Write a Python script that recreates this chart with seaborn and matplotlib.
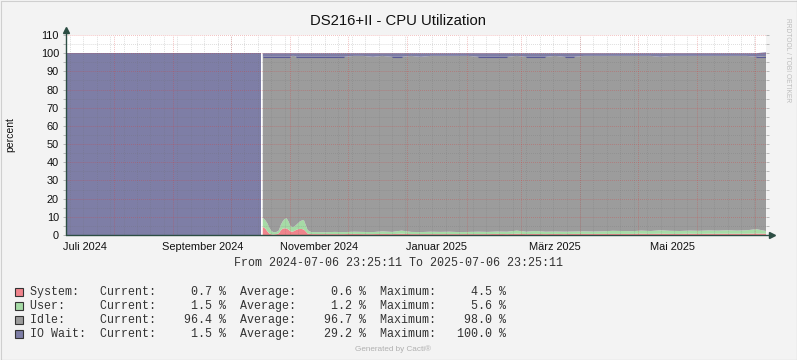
"""
plot.py — Cacti / RRDtool style CPU utilisation graph.
Run: python plot.py
"""
import numpy as np, pandas as pd
import matplotlib; matplotlib.use("Agg")
import matplotlib.pyplot as plt
import matplotlib.dates as mdates
from matplotlib.patches import Rectangle
from matplotlib.lines import Line2D
import seaborn as sns

W, H, DPI = 797, 360, 100
START = pd.Timestamp("2024-07-06 23:25:11")
END   = pd.Timestamp("2025-07-06 23:25:11")

# ---- data (days after START) ------------------------------------------------
days = [0, 101.9, 102.2,
        102.6, 104, 105, 106, 107, 108, 109, 110, 111, 112, 113, 114, 115, 116,
        117, 118, 119, 120, 121, 122, 123, 124, 125, 126, 127, 128,
        130, 135, 140, 145, 150, 155, 160, 165, 170, 175, 180, 185, 190, 195,
        200, 205, 210, 215, 220, 225, 230, 235, 240, 245, 250, 255, 260, 265,
        270, 275, 280, 285, 290, 295, 300, 305, 310, 315, 320, 325, 330, 335,
        340, 345, 350, 355, 360, 365]
system = [0, 0, np.nan,
          4.5, 3.5, 2.0, 0.8, 0.4, 0.3, 0.4, 0.5, 1.0, 2.5, 3.5, 3.7, 3.6, 3.0,
          2.0, 1.8, 2.2, 2.8, 3.2, 3.3, 3.3, 3.0, 2.0, 0.8, 0.6, 0.5,
          0.5, 0.5, 0.5, 0.5, 0.6, 0.5, 0.5, 0.6, 0.5, 0.7, 0.5, 0.5, 0.5, 0.5,
          0.5, 0.5, 0.5, 0.5, 0.5, 0.6, 0.5, 0.7, 0.5, 0.6, 0.5, 0.6, 0.5, 0.6,
          0.6, 0.6, 0.6, 0.6, 0.6, 0.6, 0.7, 0.6, 0.7, 0.6, 0.6, 0.7, 0.6, 0.7,
          0.7, 0.7, 0.7, 0.7, 0.8, 0.7]
user = [0, 0, np.nan,
        5.0, 4.5, 4.4, 3.2, 1.9, 1.3, 1.1, 1.3, 1.5, 3.0, 4.0, 5.1, 5.6, 4.5,
        3.0, 2.6, 2.4, 2.7, 3.3, 4.2, 4.7, 5.3, 3.5, 1.9, 1.4, 1.1,
        1.1, 1.0, 1.2, 1.1, 1.2, 1.2, 1.1, 1.4, 1.2, 1.7, 1.2, 1.1, 1.3, 1.2,
        1.3, 1.1, 1.2, 1.3, 1.2, 1.3, 1.3, 1.7, 1.3, 1.6, 1.3, 1.3, 1.3, 1.3,
        1.4, 1.3, 1.4, 1.7, 1.6, 1.5, 1.7, 1.6, 1.9, 1.7, 1.6, 1.7, 1.7, 1.8,
        1.7, 1.9, 1.7, 1.9, 2.4, 1.5]
idle = [0, 0, np.nan,
        88.5, 90.0, 91.6, 94.0, 95.7, 96.4, 96.5, 96.2, 95.5, 92.5, 90.5, 89.2,
        88.8, 90.5, 93.0, 94.1, 93.9, 92.5, 91.5, 90.5, 90.0, 89.7, 92.5, 95.3,
        96.0, 96.4,
        96.4, 96.5, 96.3, 96.4, 96.7, 96.8, 96.4, 96.5, 96.3, 95.6, 96.8, 96.4,
        96.7, 96.8, 96.7, 96.9, 96.8, 96.2, 96.3, 96.1, 96.2, 96.1, 96.2, 95.8,
        96.2, 96.6, 96.2, 96.1, 96.5, 96.6, 96.5, 96.2, 96.3, 96.4, 96.1, 96.3,
        95.4, 96.2, 96.3, 96.1, 96.2, 96.0, 96.1, 95.9, 96.1, 95.9, 94.8, 96.3]
iowait = [100, 100, np.nan,
          2.0, 2.0, 2.0, 2.0, 2.0, 2.0, 2.0, 2.0, 2.0, 2.0, 2.0, 2.0, 2.0, 2.0,
          2.0, 1.5, 1.5, 2.0, 2.0, 2.0, 2.0, 2.0, 2.0, 2.0, 2.0, 2.0,
          2.0, 2.0, 2.0, 2.0, 1.5, 1.5, 2.0, 1.5, 2.0, 2.0, 1.5, 2.0, 1.5, 1.5,
          1.5, 1.5, 1.5, 2.0, 2.0, 2.0, 2.0, 1.5, 2.0, 2.0, 2.0, 1.5, 2.0, 2.0,
          1.5, 1.5, 1.5, 1.5, 1.5, 1.5, 1.5, 1.5, 2.0, 1.5, 1.5, 1.5, 1.5, 1.5,
          1.5, 1.5, 1.5, 1.5, 2.0, 2.0]

series_names = ["System:", "User:", "Idle:", "IO Wait:"]
current = [0.7, 1.5, 96.4, 1.5]
average = [0.6, 1.2, 96.7, 29.2]
maximum = [4.5, 5.6, 98.0, 100.0]
month_labels = ["Juli 2024", "September 2024", "November 2024",
                "Januar 2025", "März 2025", "Mai 2025"]
label_dates = ["2024-07-17", "2024-09-16", "2024-11-16",
               "2025-01-16", "2025-03-19", "2025-05-19"]

COLORS = ["#F0848C", "#A6DBA6", "#9C9C9C", "#7E7EA6"]
AXIS_C = "#2C4D43"
SANS = ["Liberation Sans", "DejaVu Sans"]
MONO = ["Liberation Mono", "DejaVu Sans Mono"]
DOT = (0, (0.72, 1.3))

sns.set_theme(style="white")
plt.rcParams["font.family"] = SANS

def px(x, y):
    return x / W, 1 - y / H

fig = plt.figure(figsize=(W / DPI, H / DPI), dpi=DPI, facecolor="#F3F3F3")
ax = fig.add_axes([66 / W, 125 / H, 700 / W, 200 / H])
ax.set_facecolor("white")

x = mdates.date2num(START + pd.to_timedelta(days, unit="D"))
df = pd.DataFrame({"x": x, "sys": system, "usr": user, "idle": idle, "io": iowait})
ax.stackplot(df["x"], df["sys"], df["usr"], df["idle"], df["io"],
             colors=COLORS, linewidth=0, zorder=1)

# darker seam on top of the idle area where io wait is higher
top = np.where(df["io"] >= 2.0, 100 - df["io"], np.nan)
top[:3] = np.nan
ax.plot(df["x"], top, color="#5A5A96", lw=0.8, zorder=1.5, solid_capstyle="butt")

ax.set_xlim(mdates.date2num(START), mdates.date2num(END))
ax.set_ylim(0, 110)

# grid, rrdtool style (drawn over the areas)
ax.set_axisbelow(False)
months = pd.date_range("2024-08-01", "2025-07-01", freq="MS")
weeks = pd.date_range(START, END, freq="W-MON")
ax.set_xticks(mdates.date2num(months))
ax.set_xticks(mdates.date2num(weeks), minor=True)
ax.set_xticklabels([])
ax.set_yticks(np.arange(0, 111, 10))
ax.set_yticks(np.arange(5, 110, 10), minor=True)
ax.set_yticklabels([str(v) for v in range(0, 111, 10)], fontsize=7.9, color="#111111")
ax.grid(which="major", color="#D83C3C", alpha=0.42, lw=0.72, linestyle=DOT)
ax.grid(which="minor", color="#6E6E6E", alpha=0.3, lw=0.72, linestyle=DOT)
ax.tick_params(axis="both", which="both", direction="out", length=2, width=0.7,
               pad=3, colors="#B8B8B8", labelcolor="#111111")
ax.tick_params(axis="x", which="major", colors="#E09090", labelcolor="#111111")
ax.tick_params(axis="y", which="both", right=True, left=True)
for d, lab in zip(label_dates, month_labels):
    ax.text(mdates.date2num(pd.Timestamp(d)), -0.035, lab, transform=ax.get_xaxis_transform(),
            ha="center", va="top", fontsize=7.9, color="#111111")

sns.despine(ax=ax, top=True, right=True, left=True, bottom=True)
# axis lines with arrows
ax.plot([0, 1.008], [0, 0], transform=ax.transAxes, color=AXIS_C, lw=1, clip_on=False, zorder=4)
ax.plot([0, 0], [0, 1.02], transform=ax.transAxes, color=AXIS_C, lw=1, clip_on=False, zorder=4)
ax.plot([1.008], [0], marker=">", ms=4.5, color=AXIS_C, transform=ax.transAxes, clip_on=False, zorder=4)
ax.plot([0], [1.025], marker="^", ms=4.5, color=AXIS_C, transform=ax.transAxes, clip_on=False, zorder=4)

# texts
fig.text(*px(398.5, 21), "DS216+II - CPU Utilization", ha="center", va="center",
         fontsize=10.7, color="#111111")
fig.text(*px(10, 135), "percent", rotation=90, ha="center", va="center",
         fontsize=7.5, color="#111111")
fig.text(*px(788, 60), "RRDTOOL / TOBI OETIKER", rotation=270, ha="center", va="center",
         fontsize=4.8, color="#BDBDBD")
fig.text(*px(398, 263), "From 2024-07-06 23:25:11 To 2025-07-06 23:25:11",
         ha="center", va="center", fontsize=8.4, family=MONO, color="#333333")
fig.text(*px(393, 349), "Generated by Cacti®", ha="center", va="center",
         fontsize=5.9, color="#B0B0B0")

# legend block
for i, (nm, c, a, m) in enumerate(zip(series_names, current, average, maximum)):
    yc = 292 + 14 * i
    fig.add_artist(Rectangle(px(15, yc + 4), 8 / W, 8 / H, transform=fig.transFigure,
                             facecolor=COLORS[i], edgecolor="#333333", lw=0.8))
    line = f"{nm:<10}Current:{c:>8.1f} %  Average:{a:>8.1f} %  Maximum:{m:>8.1f} %"
    fig.text(*px(30, yc), line, ha="left", va="center", fontsize=8.4,
             family=MONO, color="#333333")

# frame
fig.add_artist(Line2D([0.5 / W, 0.5 / W, 1 - 0.5 / W], [0, 1 - 0.5 / H, 1 - 0.5 / H],
                      transform=fig.transFigure, color="#CFCFCF", lw=0.8))
fig.add_artist(Line2D([0.5 / W, 1 - 0.5 / W, 1 - 0.5 / W], [0.5 / H, 0.5 / H, 1],
                      transform=fig.transFigure, color="#9A9A9A", lw=0.8))

fig.savefig("out.png", dpi=DPI, facecolor=fig.get_facecolor())
